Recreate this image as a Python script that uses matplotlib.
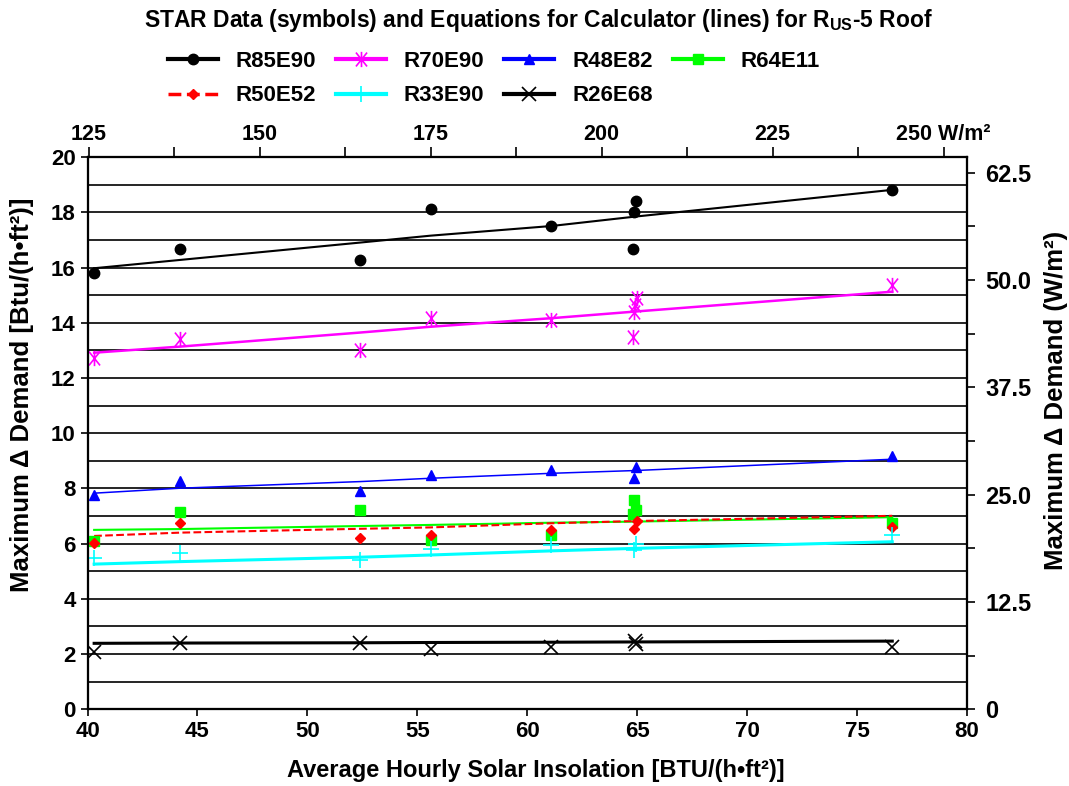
import matplotlib
matplotlib.use("Agg")
import matplotlib.pyplot as plt
from matplotlib.path import Path
from matplotlib.ticker import MultipleLocator, FixedLocator

plt.rcParams["font.family"] = ["Liberation Sans", "DejaVu Sans"]
plt.rcParams["font.weight"] = "bold"
plt.rcParams["mathtext.fontset"] = "custom"
plt.rcParams["mathtext.rm"] = "Liberation Sans:bold"
plt.rcParams["mathtext.bf"] = "Liberation Sans:bold"

# STAR data (symbols) -- Btu/(h ft2) vs insolation
r85e90_x = [40.3, 44.2, 52.4, 55.6, 61.1, 64.93, 64.84, 64.81, 76.6]
r85e90_y = [15.80, 16.67, 16.29, 18.12, 17.51, 18.42, 18.01, 16.68, 18.82]
r70e90_x = [40.3, 44.2, 52.4, 55.6, 61.1, 64.99, 64.89, 64.86, 64.81, 76.6]
r70e90_y = [12.72, 13.42, 13.02, 14.17, 14.11, 14.89, 14.65, 14.41, 13.48, 15.37]
r48e82_x = [40.3, 44.2, 52.4, 55.6, 61.1, 64.95, 64.84, 76.6]
r48e82_y = [7.76, 8.28, 7.92, 8.49, 8.67, 8.79, 8.37, 9.19]
r64e11_x = [40.3, 44.2, 52.4, 55.6, 61.1, 64.86, 64.95, 64.81, 76.6]
r64e11_y = [6.11, 7.16, 7.22, 6.13, 6.31, 7.58, 7.22, 7.08, 6.76]
r50e52_x = [40.3, 44.2, 52.4, 55.6, 61.1, 64.99, 64.84, 76.6]
r50e52_y = [6.01, 6.74, 6.20, 6.32, 6.50, 6.83, 6.53, 6.62]
r33e90_x = [40.3, 44.2, 52.4, 55.6, 61.1, 64.95, 64.84, 76.6]
r33e90_y = [5.47, 5.65, 5.41, 5.80, 5.95, 5.99, 5.77, 6.31]
r26e68_x = [40.3, 44.2, 52.4, 55.6, 61.1, 64.9, 64.95, 76.6]
r26e68_y = [2.09, 2.39, 2.39, 2.17, 2.25, 2.47, 2.38, 2.27]

# calculator equations (lines), evaluated at the insolation values
eq_x = [40.3, 44.2, 52.4, 55.6, 61.1, 64.9, 76.6]
eq_r85e90 = [15.98, 16.28, 16.91, 17.16, 17.51, 17.85, 18.82]
eq_r70e90 = [12.92, 13.14, 13.65, 13.86, 14.17, 14.41, 15.13]
eq_r48e82 = [7.83, 8.01, 8.25, 8.37, 8.55, 8.65, 9.06]
eq_r64e11 = [6.50, 6.53, 6.64, 6.68, 6.76, 6.80, 6.96]
eq_r50e52 = [6.28, 6.40, 6.54, 6.59, 6.74, 6.82, 7.01]
eq_r33e90 = [5.26, 5.35, 5.51, 5.59, 5.74, 5.83, 6.07]
eq_r26e68 = [2.39, 2.40, 2.41, 2.42, 2.43, 2.44, 2.47]

W_PER_BTU = 3.2155

# Excel-style star: X plus vertical bar
star = Path([(-0.8, -1), (0.8, 1), (-0.8, 1), (0.8, -1), (0, -1.1), (0, 1.1)],
            [Path.MOVETO, Path.LINETO, Path.MOVETO, Path.LINETO, Path.MOVETO, Path.LINETO])

series = [
    ("R85E90", r85e90_x, r85e90_y, eq_r85e90, "black", "o", 7.5, 1.5, "-"),
    ("R70E90", r70e90_x, r70e90_y, eq_r70e90, "#ff00ff", star, 11, 1.8, "-"),
    ("R48E82", r48e82_x, r48e82_y, eq_r48e82, "#0000ff", "^", 7.5, 1.1, "-"),
    ("R64E11", r64e11_x, r64e11_y, eq_r64e11, "#00ff00", "s", 6.5, 1.5, "-"),
    ("R50E52", r50e52_x, r50e52_y, eq_r50e52, "#ff0000", "D", 5.5, 1.5, "--"),
    ("R33E90", r33e90_x, r33e90_y, eq_r33e90, "#00ffff", "+", 11, 2.2, "-"),
    ("R26E68", r26e68_x, r26e68_y, eq_r26e68, "black", "x", 10, 2.2, "-"),
]

fig = plt.figure(figsize=(10.69, 7.86), dpi=100)
ax = fig.add_axes([0.0819, 0.0976, 0.8227, 0.7023])

for y in range(1, 20):
    ax.axhline(y, color="black", lw=1.2, zorder=1)

handles = {}
for name, xs, ys, eq, color, mk, ms, lw, ls in series:
    ax.plot(eq_x, eq, color=color, lw=lw, ls=ls, zorder=2)
    mew = 1.2 if mk in ("+", "x") or mk is star else 1
    fc = "none" if mk is star else color
    ax.plot(xs, ys, ls="none", marker=mk, ms=ms, color=color, mfc=fc, mew=mew, zorder=3)
    h, = ax.plot([], [], color=color, lw=3 if ls == "-" else 2.5, ls=ls, marker=mk,
                 ms=ms, mfc=fc, mew=mew)
    handles[name] = h

ax.set_xlim(40, 80)
ax.set_ylim(0, 20)
ax.xaxis.set_major_locator(MultipleLocator(5))
ax.yaxis.set_major_locator(MultipleLocator(2))
ax.tick_params(axis="both", direction="out", length=5, width=1.2, labelsize=16)
for s in ax.spines.values():
    s.set_linewidth(1.5)
ax.set_xlabel("Average Hourly Solar Insolation [BTU/(h•ft²)]", fontsize=17,
              fontweight="bold", labelpad=12)
ax.xaxis.label.set_x(0.51)
ax.set_ylabel("Maximum Δ Demand [Btu/(h•ft²)]", fontsize=18.5, fontweight="bold")
ax.yaxis.set_label_coords(-0.061, 0.57)

# top axis in W/m2
top = ax.twiny()
top.set_xlim(125 + (40 - 40.06) * W_PER_BTU, 125 + (80 - 40.06) * W_PER_BTU)
top.xaxis.set_major_locator(FixedLocator([125, 150, 175, 200, 225, 250]))
top.xaxis.set_minor_locator(FixedLocator([137.5, 162.5, 187.5, 212.5, 237.5]))
top.set_xticklabels(["125", "150", "175", "200", "225", "250 W/m²"])
top.tick_params(axis="x", which="major", direction="out", length=7, width=1.2,
                labelsize=15.5, pad=2)
top.tick_params(axis="x", which="minor", direction="out", length=7, width=1.2)

# right axis in W/m2
right = ax.twinx()
right.set_ylim(0, 20 * W_PER_BTU)
right.yaxis.set_major_locator(FixedLocator([0, 12.5, 25, 37.5, 50, 62.5]))
right.yaxis.set_minor_locator(MultipleLocator(6.25))
right.set_yticklabels(["0", "12.5", "25.0", "37.5", "50.0", "62.5"])
right.tick_params(axis="y", which="both", direction="out", length=6, width=1.2,
                  labelsize=17, pad=7)
right.set_ylabel("Maximum Δ Demand (W/m²)", fontsize=18.5, fontweight="bold")
right.yaxis.set_label_coords(1.087, 0.56)
for a in (top, right):
    for s in a.spines.values():
        s.set_linewidth(1.5)

order = ["R85E90", "R50E52", "R70E90", "R33E90", "R48E82", "R26E68", "R64E11"]
fig.legend([handles[k] for k in order], order, ncol=4, loc="center",
           bbox_to_anchor=(0.4617, 0.9000), frameon=False, fontsize=16,
           handlelength=2.25, columnspacing=0.9, handletextpad=0.8, labelspacing=0.62)

fig.text(0.504, 0.974, r"STAR Data (symbols) and Equations for Calculator (lines) for R$_{\mathrm{US}}$-5 Roof",
         ha="center", va="center", fontsize=16.5, fontweight="bold")

fig.savefig("out.png", dpi=100)
